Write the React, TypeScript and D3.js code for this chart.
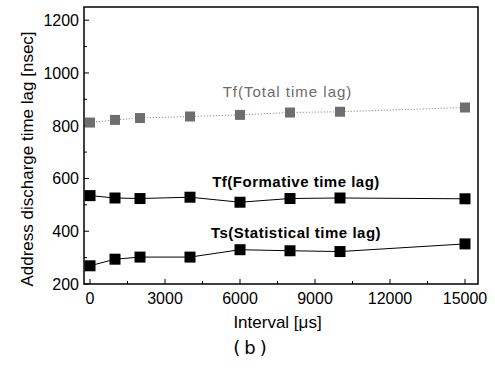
import React, { useRef, useEffect } from 'react';
import * as d3 from 'd3';

// interval values [us]
const intervals = [0, 1000, 2000, 4000, 6000, 8000, 10000, 15000];
// time lags [nsec]
const totalLag = [812, 822, 829, 835, 841, 850, 853, 869];
const formativeLag = [535, 526, 524, 529, 510, 524, 526, 523];
const statisticalLag = [269, 294, 302, 302, 330, 326, 323, 352];

const xTicks = [0, 3000, 6000, 9000, 12000, 15000];
const yTicks = [200, 400, 600, 800, 1000, 1200];

const App = () => {
    const ref = useRef<SVGSVGElement>(null);

    useEffect(() => {
        const svg = d3.select(ref.current);
        svg.selectAll('*').remove();

        const width = 495;
        const height = 368;
        const margin = { top: 7, right: 17, bottom: 84, left: 84 };

        const x = d3.scaleLinear()
            .domain([-240, 15520])
            .range([margin.left, width - margin.right]);
        const y = d3.scaleLinear()
            .domain([200, 1250])
            .range([height - margin.bottom, margin.top]);

        const font = 'Arial, "Liberation Sans", sans-serif';

        // frame
        svg.append('rect')
            .attr('x', margin.left)
            .attr('y', margin.top)
            .attr('width', width - margin.left - margin.right)
            .attr('height', height - margin.top - margin.bottom)
            .attr('fill', 'none')
            .attr('stroke', '#000')
            .attr('stroke-width', 1.5);

        // bottom ticks (inward)
        const minorX = d3.range(0, 15001, 1500);
        svg.append('g').selectAll('line').data(minorX).join('line')
            .attr('x1', d => x(d)).attr('x2', d => x(d))
            .attr('y1', y(200)).attr('y2', d => y(200) - (d % 3000 === 0 ? 5 : 3))
            .attr('stroke', '#000');
        svg.append('g').selectAll('text').data(xTicks).join('text')
            .attr('x', d => x(d))
            .attr('y', y(200) + 20)
            .attr('text-anchor', 'middle')
            .attr('font-family', font)
            .attr('font-size', 16)
            .text(d => d);

        // left ticks (inward)
        const minorY = d3.range(200, 1201, 100);
        svg.append('g').selectAll('line').data(minorY).join('line')
            .attr('x1', margin.left).attr('x2', d => margin.left + (d % 200 === 0 ? 5 : 3))
            .attr('y1', d => y(d)).attr('y2', d => y(d))
            .attr('stroke', '#000');
        svg.append('g').selectAll('text').data(yTicks).join('text')
            .attr('x', margin.left - 5)
            .attr('y', d => y(d) + 6)
            .attr('text-anchor', 'end')
            .attr('font-family', font)
            .attr('font-size', 16)
            .text(d => d);

        // axis titles
        svg.append('text')
            .attr('x', x(7500))
            .attr('y', 328)
            .attr('text-anchor', 'middle')
            .attr('font-family', font)
            .attr('font-size', 17)
            .text('Interval [μs]');
        svg.append('text')
            .attr('transform', `translate(33,159) rotate(-90)`)
            .attr('text-anchor', 'middle')
            .attr('font-family', font)
            .attr('font-size', 17)
            .text('Address discharge time lag [nsec]');
        svg.append('text')
            .attr('x', 252)
            .attr('y', 354)
            .attr('text-anchor', 'middle')
            .attr('font-family', '"DejaVu Sans", sans-serif')
            .attr('font-size', 18)
            .attr('letter-spacing', 4)
            .text('(b)');

        const series = [
            { values: totalLag, color: '#6e6e6e', dash: '1.2,1.8', size: 10, lineWidth: 0.8 },
            { values: formativeLag, color: '#000', dash: null, size: 11, lineWidth: 1 },
            { values: statisticalLag, color: '#000', dash: null, size: 11, lineWidth: 1 },
        ];

        const line = d3.line<[number, number]>()
            .x(d => x(d[0]))
            .y(d => y(d[1]));

        series.forEach(s => {
            const pts: [number, number][] = intervals.map((v, i) => [v, s.values[i]]);
            svg.append('path')
                .datum(pts)
                .attr('d', line)
                .attr('fill', 'none')
                .attr('stroke', s.color)
                .attr('stroke-width', s.lineWidth)
                .attr('stroke-dasharray', s.dash);
            svg.append('g').selectAll('rect').data(pts).join('rect')
                .attr('x', d => x(d[0]) - s.size / 2)
                .attr('y', d => y(d[1]) - s.size / 2)
                .attr('width', s.size)
                .attr('height', s.size)
                .attr('fill', s.color);
        });

        // series labels
        svg.append('text')
            .attr('x', x(7900))
            .attr('y', y(910))
            .attr('text-anchor', 'middle')
            .attr('font-family', font)
            .attr('font-size', 15)
            .attr('letter-spacing', 1)
            .attr('fill', '#6a6a6a')
            .text('Tf(Total time lag)');
        svg.append('text')
            .attr('x', x(8240))
            .attr('y', y(567))
            .attr('text-anchor', 'middle')
            .attr('font-family', font)
            .attr('font-size', 15)
            .attr('font-weight', 'bold')
            .attr('letter-spacing', 0.5)
            .text('Tf(Formative time lag)');
        svg.append('text')
            .attr('x', x(8240))
            .attr('y', y(375))
            .attr('text-anchor', 'middle')
            .attr('font-family', font)
            .attr('font-size', 15)
            .attr('font-weight', 'bold')
            .attr('letter-spacing', 0.5)
            .text('Ts(Statistical time lag)');
    }, []);

    return (
        <svg ref={ref} width={495} height={368}
            style={{ position: 'absolute', left: 0, top: 0, background: '#fff' }}></svg>
    );
};

export default App;
